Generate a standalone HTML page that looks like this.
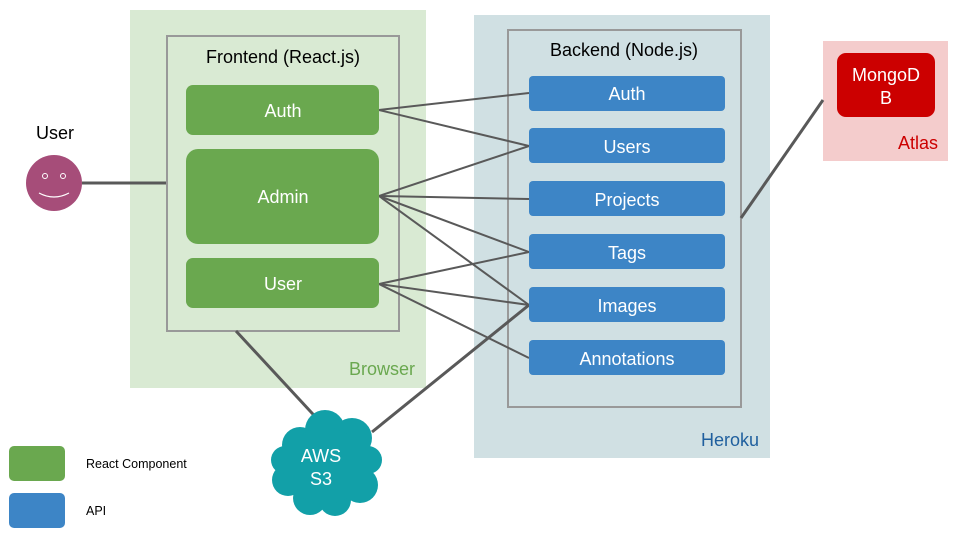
<!DOCTYPE html>
<html><head><meta charset="utf-8"><style>
html,body{margin:0;padding:0;background:#fff;}
svg{display:block;font-family:"Liberation Sans",Arial,sans-serif;}
</style></head><body>
<svg width="960" height="540" viewBox="0 0 960 540" xmlns="http://www.w3.org/2000/svg">
<rect x="130" y="10" width="296" height="378" fill="#d9ead3"/>
<rect x="474" y="15" width="296" height="443" fill="#d0e0e3"/>
<rect x="823" y="41" width="125" height="120" fill="#f4cccc"/>
<rect x="167" y="36" width="232" height="295" fill="none" stroke="#999" stroke-width="2"/>
<rect x="508" y="30" width="233" height="377" fill="none" stroke="#999" stroke-width="2"/>
<g stroke="#595959" stroke-width="2">
<line x1="379" y1="110" x2="529" y2="93"/>
<line x1="379" y1="110" x2="529" y2="146"/>
<line x1="379" y1="196" x2="529" y2="146"/>
<line x1="379" y1="196" x2="529" y2="199"/>
<line x1="379" y1="196" x2="529" y2="252"/>
<line x1="379" y1="196" x2="529" y2="305"/>
<line x1="379" y1="284" x2="529" y2="252"/>
<line x1="379" y1="284" x2="529" y2="305"/>
<line x1="379" y1="284" x2="529" y2="358"/>
</g>
<g stroke="#595959" stroke-width="3">
<line x1="82" y1="183" x2="166" y2="183"/>
<line x1="741" y1="218" x2="823" y2="100"/>
<line x1="236" y1="331" x2="323" y2="425"/>
<line x1="372" y1="432" x2="529" y2="305"/>
</g>
<g fill="#6aa84f">
<rect x="186" y="85" width="193" height="50" rx="7"/>
<rect x="186" y="149" width="193" height="95" rx="12"/>
<rect x="186" y="258" width="193" height="50" rx="7"/>
<rect x="9" y="446" width="56" height="35" rx="5"/>
</g>
<g fill="#3d85c6">
<rect x="529" y="76" width="196" height="35" rx="4"/>
<rect x="529" y="128" width="196" height="35" rx="4"/>
<rect x="529" y="181" width="196" height="35" rx="4"/>
<rect x="529" y="234" width="196" height="35" rx="4"/>
<rect x="529" y="287" width="196" height="35" rx="4"/>
<rect x="529" y="340" width="196" height="35" rx="4"/>
<rect x="9" y="493" width="56" height="35" rx="5"/>
</g>
<rect x="837" y="53" width="98" height="64" rx="9" fill="#cc0000"/>
<circle cx="54" cy="183" r="28" fill="#a64d79"/>
<circle cx="45" cy="176" r="2.5" fill="none" stroke="#fff" stroke-width="1"/>
<circle cx="63" cy="176" r="2.5" fill="none" stroke="#fff" stroke-width="1"/>
<path d="M39 193 Q54 201 69 193" fill="none" stroke="#fff" stroke-width="1.2"/>
<g fill="#12a0a8">
<circle cx="300" cy="445" r="18"/><circle cx="325" cy="430" r="20"/><circle cx="352" cy="438" r="20"/>
<circle cx="368" cy="460" r="14"/><circle cx="360" cy="485" r="18"/><circle cx="335" cy="500" r="16"/>
<circle cx="310" cy="498" r="17"/><circle cx="288" cy="480" r="16"/><circle cx="285" cy="460" r="14"/>
<ellipse cx="325" cy="466" rx="42" ry="38"/>
</g>
<g fill="#fff" font-size="18" text-anchor="middle">
<text x="283" y="117">Auth</text>
<text x="283" y="203">Admin</text>
<text x="283" y="290">User</text>
<text x="627" y="100">Auth</text>
<text x="627" y="153">Users</text>
<text x="627" y="206">Projects</text>
<text x="627" y="259">Tags</text>
<text x="627" y="312">Images</text>
<text x="627" y="365">Annotations</text>
<text x="886" y="81">MongoD</text>
<text x="886" y="104">B</text>
<text x="321" y="462">AWS</text>
<text x="321" y="485">S3</text>
</g>
<g font-size="18" text-anchor="middle" fill="#000">
<text x="283" y="63">Frontend (React.js)</text>
<text x="624" y="56">Backend (Node.js)</text>
<text x="55" y="139">User</text>
</g>
<text x="349" y="375" font-size="18" fill="#6aa84f">Browser</text>
<text x="701" y="446" font-size="18" fill="#1f5f9e">Heroku</text>
<text x="898" y="149" font-size="18" fill="#cc0000">Atlas</text>
<text x="86" y="468" font-size="12.5" fill="#000">React Component</text>
<text x="86" y="515" font-size="12.5" fill="#000">API</text>
</svg>
</body></html>
